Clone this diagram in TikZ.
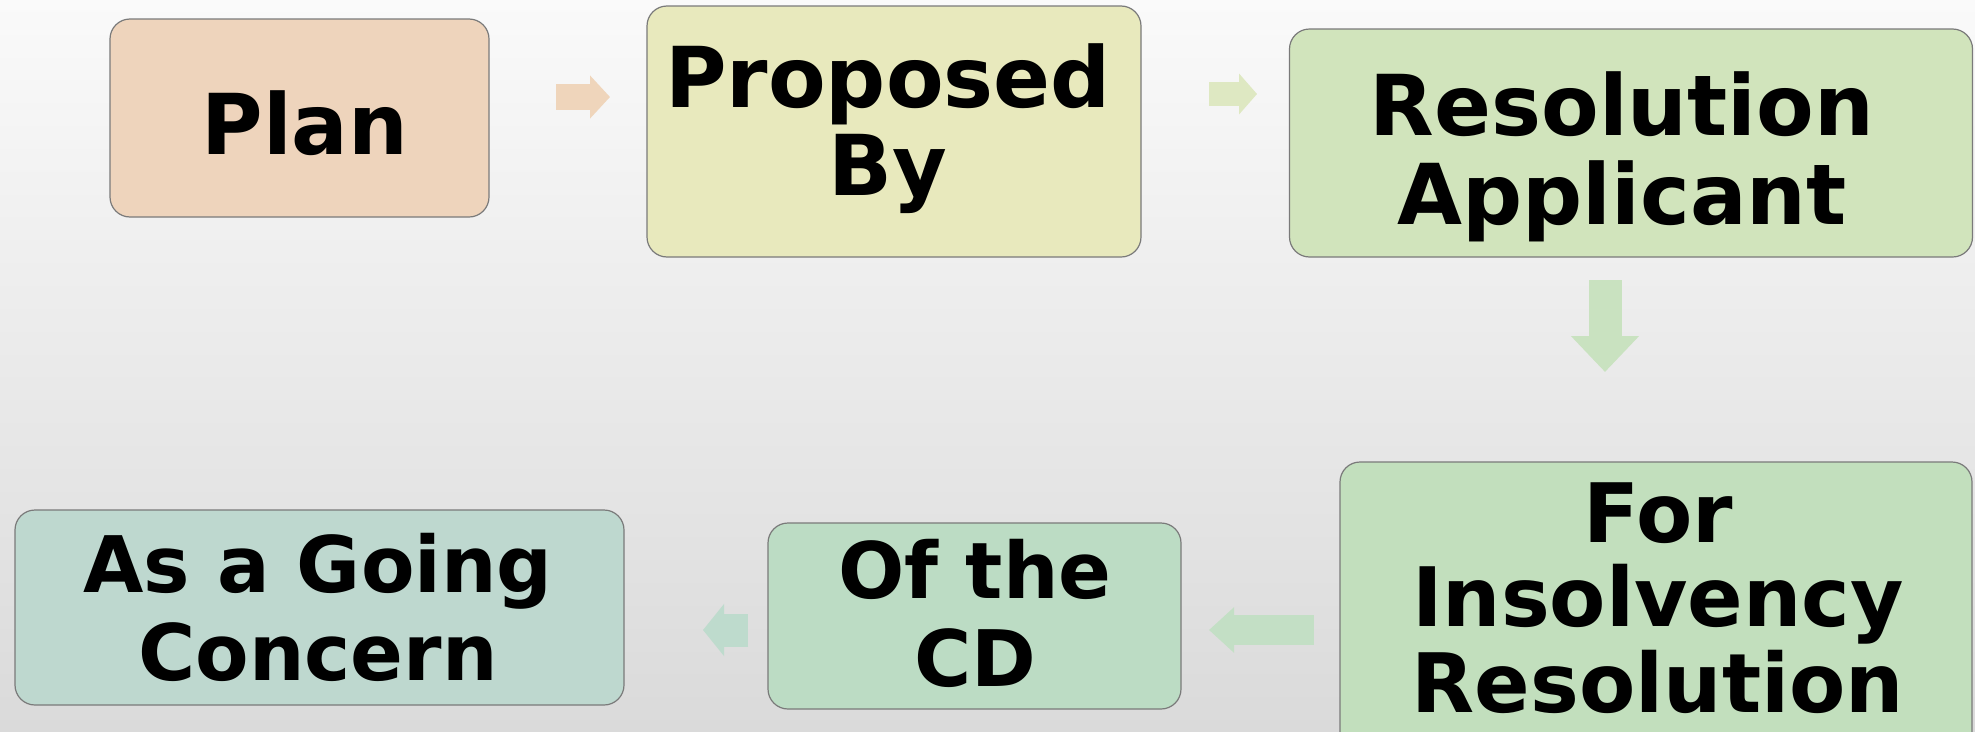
\documentclass[tikz,border=0pt]{standalone}
\usepackage{fontspec}
\setmainfont{DejaVu Sans}
\usetikzlibrary{arrows.meta}
\definecolor{cPlan}{HTML}{EED4BC}
\definecolor{cProp}{HTML}{E8E9BD}
\definecolor{cRes}{HTML}{D1E4BC}
\definecolor{cFor}{HTML}{C2DFBD}
\definecolor{cOf}{HTML}{BCDCC4}
\definecolor{cAs}{HTML}{BED8CF}
\definecolor{aPlan}{HTML}{EFD5BB}
\definecolor{aProp}{HTML}{DEE8C2}
\definecolor{aRes}{HTML}{C9E2C0}
\definecolor{aFor}{HTML}{C3DFC5}
\definecolor{aOf}{HTML}{BEDBCD}
\definecolor{bord}{HTML}{7A7A7A}
\definecolor{bgtop}{HTML}{FAFAFA}
\definecolor{bgbot}{HTML}{DADADA}
\tikzset{
  box/.style={draw=bord, line width=1.2pt, rounded corners=20pt, inner sep=0pt},
  lbl/.style={anchor=base, inner sep=0pt, font=\bfseries\fontsize{#1}{#1}\selectfont},
  flow/.style={line width=#1},
}
\begin{document}
\begin{tikzpicture}[x=1pt,y=-1pt]
\useasboundingbox (0,0) rectangle (1975,731);
\clip (0,0) rectangle (1975,731);
\shade[top color=bgtop, bottom color=bgbot] (0,0) rectangle (1975,731);
% boxes
\node[box, fill=cPlan, minimum width=379pt, minimum height=198pt] (plan) at (299.5,118) {};
\node[box, fill=cProp, minimum width=494pt, minimum height=251pt] (prop) at (894,131.5) {};
\node[box, fill=cRes, minimum width=683pt, minimum height=228pt] (res) at (1631,143) {};
\node[box, fill=cFor, minimum width=632pt, minimum height=290pt] (for) at (1656,607) {};
\node[box, fill=cOf, minimum width=413pt, minimum height=186pt] (of) at (974.5,616) {};
\node[box, fill=cAs, minimum width=609pt, minimum height=195pt] (as) at (319.5,607.5) {};
% labels
\node[lbl=84] (tplan) at (305,154) {Plan};
\node[lbl=84] (tprop1) at (888,107) {Proposed};
\node[lbl=84] (tprop2) at (888,195) {By};
\node[lbl=84] (tres1) at (1622,135) {Resolution};
\node[lbl=84] (tres2) at (1622,224) {Applicant};
\node[lbl=82] (tfor1) at (1658,542) {For};
\node[lbl=82] (tfor2) at (1658,626) {Insolvency};
\node[lbl=82] (tfor3) at (1658,712) {Resolution};
\node[lbl=78] (tof1) at (975,598) {Of the};
\node[lbl=78] (tof2) at (975,686) {CD};
\node[lbl=78] (tas1) at (318,592) {As a Going};
\node[lbl=78] (tas2) at (318,680) {Concern};
% arrow end points
\coordinate (a1s) at (556,97);   \coordinate (a1e) at (610,97);
\coordinate (a2s) at (1209,94);  \coordinate (a2e) at (1257,94);
\coordinate (a3s) at (1605,280); \coordinate (a3e) at (1605,372);
\coordinate (a4s) at (1314,630); \coordinate (a4e) at (1209,630);
\coordinate (a5s) at (748,630);  \coordinate (a5e) at (703,630);
\draw[aPlan, line width=26pt, -{Triangle[length=20pt,width=42pt]}] (a1s) -- (a1e);
\draw[aProp, line width=24pt, -{Triangle[length=18pt,width=40pt]}] (a2s) -- (a2e);
\draw[aRes, line width=33pt, -{Triangle[length=36pt,width=66pt]}] (a3s) -- (a3e);
\draw[aFor, line width=30pt, -{Triangle[length=25pt,width=44pt]}] (a4s) -- (a4e);
\draw[aOf, line width=33pt, -{Triangle[length=21pt,width=51pt]}] (a5s) -- (a5e);
\end{tikzpicture}
\end{document}
